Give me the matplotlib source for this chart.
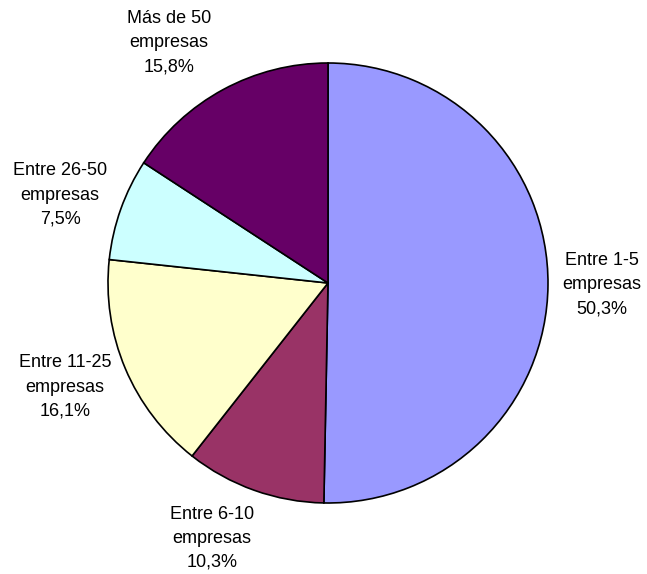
import matplotlib
matplotlib.use("Agg")
import matplotlib.pyplot as plt

categories = ["Entre 1-5", "Entre 6-10", "Entre 11-25", "Entre 26-50", "Más de 50"]
values = [50.3, 10.3, 16.1, 7.5, 15.8]
colors = ["#9999FF", "#993366", "#FFFFCC", "#CCFFFF", "#660066"]

labels = [f"{c}\nempresas\n{str(v).replace('.', ',')}%" for c, v in zip(categories, values)]

# label anchor positions (in units of pie radius)
label_pos = [(1.245, -0.009), (-0.527, -1.16), (-1.195, -0.473), (-1.218, 0.40), (-0.723, 1.091)]

W, H = 647, 574
fig = plt.figure(figsize=(W / 100, H / 100), dpi=100)
cx, cy, r = 328, 283, 220
ax = fig.add_axes([(cx - r) / W, (H - cy - r) / H, 2 * r / W, 2 * r / H])
wedges, texts = ax.pie(values, labels=labels, colors=colors, startangle=90, counterclock=False,
                       labeldistance=1.28, radius=1,
                       wedgeprops=dict(edgecolor="black", linewidth=1.2),
                       textprops=dict(fontsize=13, family=["Liberation Sans", "DejaVu Sans"],
                                      ha="center", va="center", linespacing=1.55))
for t, p in zip(texts, label_pos):
    t.set_ha("center")
    t.set_va("center")
    t.set_position(p)
    t.set_clip_on(False)
ax.set_xlim(-1, 1)
ax.set_ylim(-1, 1)
ax.set_aspect("auto")
fig.savefig("out.png", dpi=100)
